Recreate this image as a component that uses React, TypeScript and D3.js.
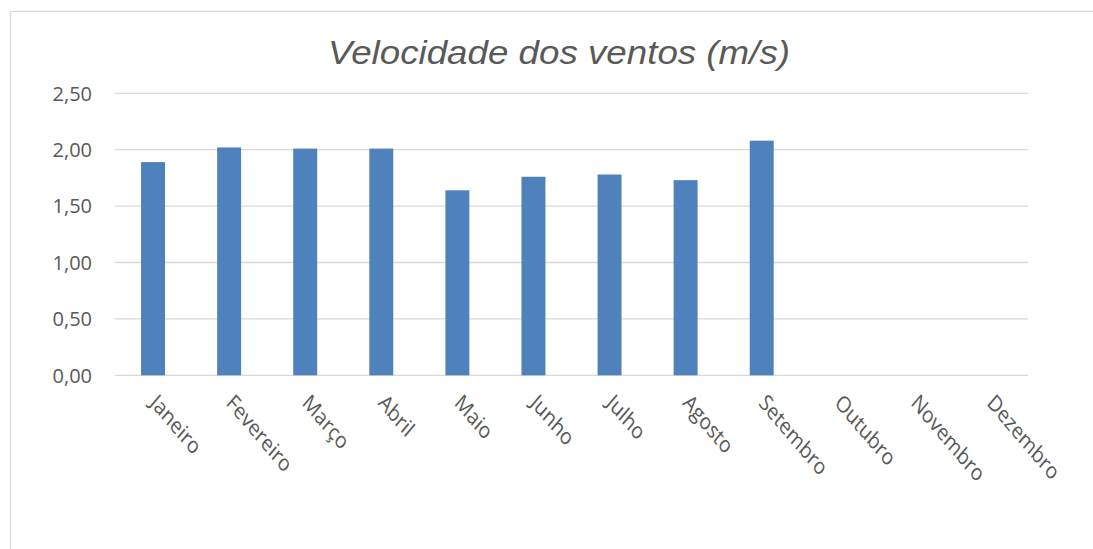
import React from "react";
import * as d3 from "d3";

const months = [
  "Janeiro", "Fevereiro", "Março", "Abril", "Maio", "Junho",
  "Julho", "Agosto", "Setembro", "Outubro", "Novembro", "Dezembro",
];
const speeds: (number | null)[] = [1.89, 2.02, 2.01, 2.01, 1.64, 1.76, 1.78, 1.73, 2.08, null, null, null];
const yTicks = [0, 0.5, 1, 1.5, 2, 2.5];
const title = "Velocidade dos ventos (m/s)";

const W = 1093;
const H = 549;
const plot = { left: 115, right: 1028, top: 93.3, bottom: 375.3 };

const fmt = (v: number) => v.toFixed(2).replace(".", ",");

export default function App() {
  const x = d3
    .scaleBand<string>()
    .domain(months)
    .range([plot.left, plot.right])
    .paddingInner(0.685)
    .paddingOuter(0.3425);
  const y = d3.scaleLinear().domain([0, 2.5]).range([plot.bottom, plot.top]);
  const axisFont = "'Open Sans', 'Noto Sans', sans-serif";
  const textColor = "#595959";

  return (
    <svg
      width={W}
      height={H}
      style={{ position: "absolute", left: 0, top: 0, background: "#fff" }}
    >
      {/* chart frame */}
      <rect x={10.5} y={11.5} width={W} height={H} fill="#fff" stroke="#D9D9D9" strokeWidth={1.3} />

      <text
        x={559}
        y={64}
        textAnchor="middle"
        fontFamily="'Liberation Sans', Arial, sans-serif"
        fontStyle="italic"
        fontSize={34}
        fill={textColor}
        textLength={462}
        lengthAdjust="spacingAndGlyphs"
      >
        {title}
      </text>

      {/* horizontal gridlines */}
      {yTicks.map((t) => (
        <line
          key={t}
          x1={plot.left}
          x2={plot.right}
          y1={y(t)}
          y2={y(t)}
          stroke="#D9D9D9"
          strokeWidth={1.3}
        />
      ))}

      {/* y tick labels */}
      {yTicks.map((t) => (
        <text
          key={t}
          x={92}
          y={y(t)}
          dy="0.36em"
          textAnchor="end"
          fontFamily={axisFont}
          fontSize={20}
          fill={textColor}
        >
          {fmt(t)}
        </text>
      ))}

      {/* bars */}
      {months.map((m, i) => {
        const v = speeds[i];
        if (v == null) return null;
        return (
          <rect
            key={m}
            x={x(m)}
            y={y(v)}
            width={x.bandwidth()}
            height={y(0) - y(v)}
            fill="#4F81BD"
          />
        );
      })}

      {/* slanted category labels (narrowed glyphs) */}
      {months.map((m) => {
        const cx = (x(m) ?? 0) + x.bandwidth() / 2;
        return (
          <text
            key={m}
            transform={`translate(${cx - 4},${404}) scale(0.85,1) rotate(45)`}
            fontFamily={axisFont}
            fontSize={22.5}
            fill={textColor}
          >
            {m}
          </text>
        );
      })}
    </svg>
  );
}
